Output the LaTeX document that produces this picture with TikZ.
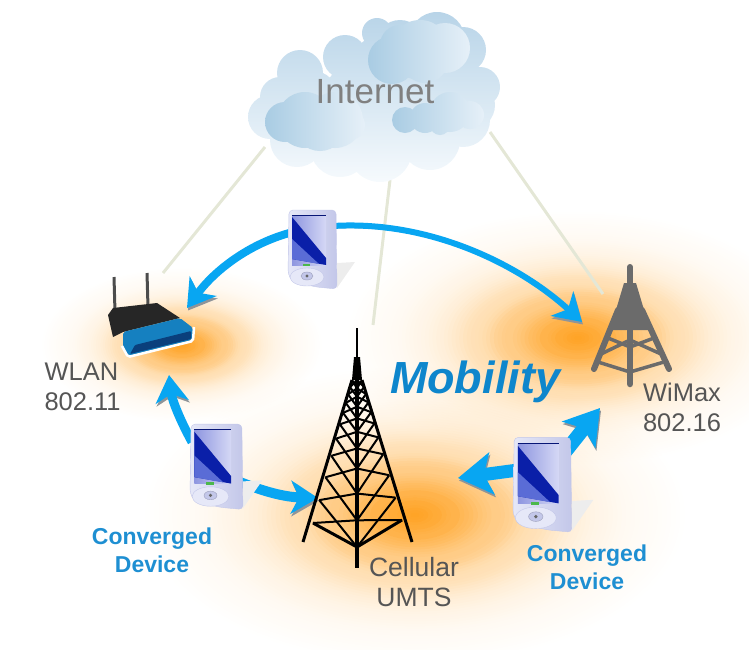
\documentclass[tikz,border=0pt]{standalone}
\usepackage{fontspec}
\setmainfont{Liberation Sans}
\usetikzlibrary{arrows.meta,calc}
\definecolor{glow}{HTML}{FF9A10}
\definecolor{flowblue}{HTML}{08A6F2}
\definecolor{flowgray}{HTML}{8F9499}
\definecolor{labelgray}{HTML}{555555}
\definecolor{labelblue}{HTML}{1E8FD2}
\definecolor{mobblue}{HTML}{0E86CC}
\definecolor{towergray}{HTML}{6B6B6B}
\definecolor{linkgreen}{HTML}{E4E7D6}
\definecolor{cloudtop}{HTML}{B8D4E8}
\definecolor{cloudlow}{HTML}{F6FAFD}
\definecolor{blobdark}{HTML}{A9CCE3}
\definecolor{bloblight}{HTML}{E6F0F8}
\definecolor{phoneleft}{HTML}{E6E8F8}
\definecolor{phoneright}{HTML}{C3C7E9}
\definecolor{screendark}{HTML}{0A1FA8}
\definecolor{screenlow}{HTML}{5A6CD6}
\definecolor{screenhigh}{HTML}{8E96E0}
\definecolor{screenpale}{HTML}{D5D8F5}
\definecolor{routertopc}{HTML}{1580C0}
\definecolor{routerfront}{HTML}{0A3F7C}
\newcommand{\glowat}[3]{%
  \foreach \k in {1,...,60} {
    \pgfmathsetmacro\glowop{.004+.15*(1-\k/60)^3}
    \fill[glow,opacity=\glowop] (#1,#2) ellipse [x radius={#3*\k/60},y radius={#3*\k/60*0.55}];
  }
}
\tikzset{
  link/.style={draw=linkgreen,line width=3pt},
  flow/.style={draw=flowblue,line width=#1,-{Stealth[length=27pt,width=33pt,inset=8pt]},
    preaction={draw=flowgray,transform canvas={shift={(1pt,-2.5pt)}}}},
  flow/.default=6pt,
  bighead/.style={-{Stealth[length=34pt,width=42pt,inset=8pt]}},
  netlabel/.style={text=labelgray,font=\fontsize{25.5}{30}\selectfont,align=center},
  devlabel/.style={text=labelblue,font=\fontsize{23}{28}\selectfont\bfseries,align=center},
  lattice/.style={line width=2pt,black},
  pics/phone/.style={code={
    \fill[black!7] (49,55) -- (67,54) -- (49,80) -- cycle;
    \shade[left color=phoneleft,right color=phoneright,draw=phoneright,rounded corners=4pt]
      (1,2) -- (48,2) -- (49,81) -- (28,79) -- (4,73) -- (0,66) -- cycle;
    \shade[shading angle=135,left color=screenhigh,right color=screenpale] (4,7) rectangle (38,57);
    \fill[screendark] (4,9) -- (38,50) -- (38,57) -- (4,51) -- cycle;
    \fill[screenlow] (4,31) -- (31,56) -- (4,51) -- cycle;
    \draw[screendark!70!black,line width=.8pt] (4,7) -- (38,7);
    \fill[green!60!black!70] (15,56) rectangle (22,58);
    \fill[phoneleft,draw=phoneright] (19,69) ellipse [x radius=17,y radius=9];
    \fill[phoneright,draw=phoneright!80!black] (19,68) ellipse [x radius=6,y radius=4];
    \fill[black!60] (19,68) circle [radius=1.6];
  }}
}
\begin{document}
\begin{tikzpicture}[x=1pt,y=-1pt]
\useasboundingbox (0,0) rectangle (749,649);

% glows
\glowat{182}{345}{140}
\glowat{578}{338}{230}
\glowat{415}{515}{270}

\coordinate (cloudl) at (265,147);
\coordinate (cloudc) at (390,180);
\coordinate (cloudr) at (490,132);
\coordinate (routertop) at (163,273);
\coordinate (cellulartop) at (373,325);
\coordinate (wimaxtop) at (603,294);
\draw[link] (cloudl) -- (routertop);
\draw[link] (cloudc) -- (cellulartop);
\draw[link] (cloudr) -- (wimaxtop);

% cloud
\shade[top color=cloudtop,bottom color=cloudlow]
  \foreach \x/\y/\r in {377/33/15,437/40/28,463/50/23,480/87/20,345/57/22,300/73/23,280/97/20,
    270/117/22,297/140/27,340/147/30,380/150/32,430/140/30,463/120/27,363/100/40,413/83/40,
    400/45/25,430/48/30,380/60/25,310/100/30,440/90/35,470/105/25}
  {(\x,\y) circle [radius=\r]};
\shade[left color=blobdark,right color=bloblight]
  \foreach \x/\y/\r in {285/122/20,305/120/28,335/120/28,350/125/15,320/125/26}
  {(\x,\y) circle [radius=\r]};
\shade[shading angle=125,left color=blobdark,right color=bloblight]
  \foreach \x/\y/\r in {392/60/24,420/50/30,445/48/25,425/60/23,400/45/20}
  {(\x,\y) circle [radius=\r]};
\shade[left color=blobdark,right color=bloblight]
  \foreach \x/\y/\r in {405/120/13,425/118/15,450/112/20,470/115/14,440/125/10}
  {(\x,\y) circle [radius=\r]};
\node[text=black!50,font=\fontsize{35}{35}\selectfont] (internet) at (375,92) {Internet};

% routes
\coordinate (phonetopl) at (293,232);
\coordinate (phonetopr) at (333,226);
\coordinate (routerin) at (187,308);
\coordinate (wimaxin) at (582,322);
\coordinate (phoneleftu) at (192,442);
\coordinate (routerlow) at (169,375);
\coordinate (phoneleftr) at (240,482);
\coordinate (cellularl) at (318,498);
\coordinate (phonerightl) at (518,470);
\coordinate (cellularr) at (458,478);
\coordinate (phonerightu) at (565,452);
\coordinate (wimaxlow) at (600,408);
\draw[flow=8pt] (phonetopl) .. controls (250,243) and (215,270) .. (routerin);
\draw[flow] (phonetopr) .. controls (430,220) and (520,265) .. (wimaxin);
\draw[flow=9pt] (phoneleftu) .. controls (180,420) and (172,400) .. (routerlow);
\draw[flow=10pt] (phoneleftr) .. controls (265,492) and (285,497) .. (cellularl);
\draw[flow=13pt,bighead] (phonerightl) -- (cellularr);
\draw[flow=14pt,bighead] (phonerightu) -- (wimaxlow);

% phones
\pic at (288,208) {phone};
\pic[scale=1.08] at (190,422) {phone};
\pic[scale=1.2] at (513,435) {phone};

% router
\draw[black!70,line width=3pt] (114,277) -- (115,312);
\draw[black!70,line width=3pt] (147,273) -- (148,307);
\fill[black!85] (108,315) -- (113,308) -- (157,303) -- (180,318) -- (123,332) -- (113,337) -- cycle;
\fill[routertopc,rounded corners=2pt]
  (123,332) -- (180,318) -- (193,328) -- (192,340) -- (128,356) -- (123,347) -- cycle;
\draw[white,line width=2.5pt,rounded corners=2pt] (194,327) -- (193,341) -- (128,357) -- (122,346);
\fill[routerfront,rounded corners=1pt] (135,345) -- (191,331) -- (191,339) -- (130,354) -- cycle;

% cellular tower
\coordinate (apexl) at (352,380);
\coordinate (apexc) at (357,380);
\coordinate (apexr) at (362,380);
\coordinate (cornerl) at (313,523);
\coordinate (cornerc) at (357,547);
\coordinate (cornerr) at (402,520);
\coordinate (footl) at (303,542);
\coordinate (footc) at (357,568);
\coordinate (footr) at (412,542);
\draw[black,line width=2.5pt] (357,328) -- (357,357);
\fill[black] (352,380) -- (354,357) -- (360,357) -- (362,380) -- cycle;
\draw[black,line width=3pt] (apexl) -- (footl);
\draw[black,line width=3pt] (apexr) -- (footr);
\draw[black,line width=3.5pt] (apexc) -- (footc);
\draw[black,line width=3pt] (cornerl) -- (cornerc) -- (cornerr);
\foreach \t/\u in {0/.05,.05/.1,.1/.16,.16/.23,.23/.31,.31/.41,.41/.53,.53/.68,.68/.84,.84/1} {
  \draw[lattice] ($(apexl)!\t!(cornerl)$) -- ($(apexc)!\u!(cornerc)$);
  \draw[lattice] ($(apexc)!\t!(cornerc)$) -- ($(apexl)!\u!(cornerl)$);
  \draw[lattice] ($(apexr)!\t!(cornerr)$) -- ($(apexc)!\u!(cornerc)$);
  \draw[lattice] ($(apexc)!\t!(cornerc)$) -- ($(apexr)!\u!(cornerr)$);
}

% wimax tower
\draw[towergray,line width=6pt,line cap=round] (630,267) -- (630,290);
\fill[towergray] (624,283) -- (636,283) -- (650,330) -- (610,330) -- cycle;
\draw[towergray,line width=6pt,line cap=round] (618,310) -- (594,369);
\draw[towergray,line width=6pt,line cap=round] (642,310) -- (669,369);
\draw[towergray,line width=6.5pt,line cap=round] (630,320) -- (630,384);
\draw[towergray,line width=3.5pt] (608,338) -- (630,347) -- (654,338);
\draw[towergray,line width=3.5pt] (601,354) -- (630,340) -- (661,354);
\draw[towergray,line width=3.5pt] (598,362) -- (630,372) -- (664,362);

% labels
\node[netlabel,align=left,anchor=west] (wlan) at (41,387) {WLAN\\802.11};
\node[netlabel] (wimax) at (682,407) {WiMax\\802.16};
\node[netlabel,font=\fontsize{26.5}{30}\selectfont] (cellular) at (414,582) {Cellular\\UMTS};
\node[devlabel] (convl) at (152,550) {Converged\\Device};
\node[devlabel] (convr) at (587,567) {Converged\\Device};
\node[text=mobblue,font=\fontsize{45}{45}\selectfont\bfseries\itshape] (mobility) at (475,382) {Mobility};
\end{tikzpicture}
\end{document}
